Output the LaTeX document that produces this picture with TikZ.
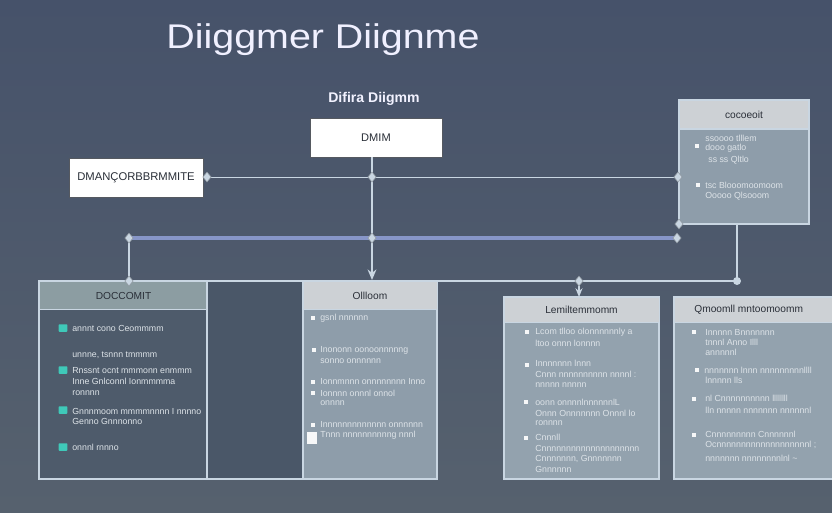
\documentclass[tikz,border=0pt]{standalone}
\usepackage{fontspec}
\setmainfont{Liberation Sans}
\usetikzlibrary{shapes.geometric,arrows.meta}
\definecolor{bgtop}{HTML}{46526A}
\definecolor{bgbot}{HTML}{56616E}
\definecolor{wire}{HTML}{C9D6E2}
\definecolor{bluewire}{HTML}{8796C8}
\definecolor{panel}{HTML}{8E9DAA}
\definecolor{panelb}{HTML}{93A2AE}
\definecolor{hdrlight}{HTML}{CDD1D5}
\definecolor{hdrteal}{HTML}{8C9DA2}
\definecolor{darkbody}{HTML}{4E5B6B}
\definecolor{darkcol}{HTML}{4A5768}
\definecolor{tealic}{HTML}{3FC9B9}
\definecolor{txtlight}{HTML}{DDE3E8}
\definecolor{txtdark}{HTML}{2A2F38}
\tikzset{
  box/.style n args={2}{anchor=north west,inner sep=0pt,outer sep=0pt,minimum width={#1*0.02cm},minimum height={#2*0.02cm}},
  whitebox/.style={fill=white,draw=txtdark!80,line width=0.5pt},
  frame/.style={draw=wire,line width=0.9pt},
  wireln/.style={draw=wire,line width=1.1pt},
  blueln/.style={draw=bluewire,line width=1.8pt},
  dia/.style={diamond,fill=wire,draw=wire!70!black,line width=0.3pt,inner sep=0pt,minimum width=0.17cm,minimum height=0.2cm},
  ln/.style={anchor=west,inner sep=0pt,text=txtlight,font=\fontsize{5}{6}\selectfont},
  hdrtxt/.style={inner sep=0pt,text=txtdark,font=\fontsize{5.8}{6}\selectfont},
  bul/.style={fill=white!92!panel,inner sep=0pt,minimum size=0.08cm},
  ticon/.style={fill=tealic,rounded corners=0.5pt,inner sep=0pt,minimum width=0.18cm,minimum height=0.15cm},
}
\begin{document}
\begin{tikzpicture}[x=0.02cm,y=-0.02cm]
\useasboundingbox (0,0) rectangle (832,512);
\clip (0,0) rectangle (832,512);
\shade[top color=bgtop,bottom color=bgbot] (0,0) rectangle (832,512);

% titles
\node[text=white!94!blue] (title) at (323,40) {\scalebox{1.15}[1]{\fontsize{19.5}{22}\selectfont Diiggmer Diignme}};
\node[text=white!95!blue,font=\fontsize{8}{9}\selectfont\bfseries] (subtitle) at (374,99) {Difira Diigmm};

% top boxes
\node[box={132}{39},whitebox] (dmim) at (310,118) {};
\node[hdrtxt,font=\fontsize{6.3}{7}\selectfont] (dmimt) at (dmim.center) {DMIM};
\node[box={134}{39},whitebox] (leftbox) at (69,158) {};
\node[hdrtxt,font=\fontsize{6.4}{7}\selectfont] (leftt) at (leftbox.center) {DMANÇORBBRMMITE};

% right top panel
\node[box={130}{124},fill=panel,draw=wire,line width=0.9pt] (rpanel) at (679,100) {};
\node[box={128}{28},fill=hdrlight] (rphdr) at (680,101) {};
\draw[wire,line width=0.6pt] (rphdr.south west) -- (rphdr.south east);
\node[hdrtxt] (rpht) at (rphdr.center) {cocoeoit};
\node[bul] (rpb1) at (697,146) {};
\node[ln] (rp1) at (705,138) {ssoooo tlllem};
\node[ln] (rp2) at (705,148) {dooo gatlo};
\node[ln] (rp3) at (708,160) {ss ss Qltlo};
\node[bul] (rpb2) at (698,185) {};
\node[ln] (rp4) at (705,185) {tsc Blooomoomoom};
\node[ln] (rp5) at (705,196) {Ooooo Qlsooom};

% bottom box 1
\node[box={168}{198},fill=darkbody,frame] (b1) at (39,281) {};
\node[box={167}{28},fill=hdrteal] (b1h) at (40,281.5) {};
\draw[wire,line width=0.6pt] (b1h.south west) -- (b1h.south east);
\node[hdrtxt] (b1ht) at (b1h.center) {DOCCOMIT};
\node[ticon] (i1) at (63,328) {};
\node[ln] (b1l1) at (72,328) {annnt cono Ceommmm};
\node[ln] (b1l2) at (72,355) {unnne, tsnnn tmmmm};
\node[ticon] (i2) at (63,370) {};
\node[ln] (b1l3) at (72,371) {Rnssnt ocnt mmmonn enmmm};
\node[ln] (b1l4) at (72,381) {Inne Gnlconnl Ionmmmma};
\node[ln] (b1l5) at (72,393) {ronnnn};
\node[ticon] (i3) at (63,410) {};
\node[ln] (b1l6) at (72,411) {Gnnnmoom mmmmnnnn I nnnno};
\node[ln] (b1l7) at (72,421) {Genno Gnnnonno};
\node[ticon] (i4) at (63,447) {};
\node[ln] (b1l8) at (72,447) {onnnl rnnno};

% bottom box 2 (empty)
\node[box={96}{198},fill=darkcol,frame] (b2) at (207,281) {};

% bottom box 3
\node[box={134}{198},fill=panel,frame] (b3) at (303,281) {};
\node[box={133}{28},fill=hdrlight] (b3h) at (303.5,281.5) {};
\draw[wire,line width=0.6pt] (b3h.south west) -- (b3h.south east);
\node[hdrtxt] (b3ht) at (b3h.center) {Ollloom};
\node[bul] (b3b1) at (313,318) {};
\node[ln] (b3l1) at (320,318) {gsnl nnnnnn};
\node[bul] (b3b2) at (314,350) {};
\node[ln] (b3l2) at (320,350) {Inononn oonoonnnnng};
\node[ln] (b3l3) at (320,361) {sonno onnnnnn};
\node[bul] (b3b3) at (313,382) {};
\node[ln] (b3l4) at (320,382) {Ionnmnnn onnnnnnnn Inno};
\node[bul] (b3b4) at (313,393) {};
\node[ln] (b3l5) at (320,393) {Ionnnn onnnl onnol};
\node[ln] (b3l6) at (320,403) {onnnn};
\node[bul] (b3b5) at (313,425) {};
\node[ln] (b3l7) at (320,425) {Innnnnnnnnnnnn onnnnnn};
\node[bul,minimum width=0.2cm,minimum height=0.24cm] (b3b6) at (312,438) {};
\node[ln] (b3l8) at (320,435) {Tnnn nnnnnnnnnng nnnl};

% bottom box 4
\node[box={155}{182},fill=panelb,frame] (b4) at (504,297) {};
\node[box={154}{25},fill=hdrlight] (b4h) at (504.5,297.5) {};
\draw[wire,line width=0.6pt] (b4h.south west) -- (b4h.south east);
\node[hdrtxt] (b4ht) at (b4h.center) {Lemiltemmomm};
\node[bul] (b4b1) at (527,332) {};
\node[ln] (b4l1) at (535,332) {Lcom tlloo olonnnnnnly a};
\node[ln] (b4l2) at (535,343) {ltoo onnn lonnnn};
\node[bul] (b4b2) at (527,365) {};
\node[ln] (b4l3) at (535,363) {Innnnnnn lnnn};
\node[ln] (b4l4) at (535,374) {Cnnn nnnnnnnnnn nnnnl :};
\node[ln] (b4l5) at (535,385) {nnnnn nnnnn};
\node[bul] (b4b3) at (526,402) {};
\node[ln] (b4l6) at (535,402) {oonn onnnnlnnnnnnlL};
\node[ln] (b4l7) at (535,413) {Onnn Onnnnnnn Onnnl lo};
\node[ln] (b4l8) at (535,423) {ronnnn};
\node[bul] (b4b4) at (526,438) {};
\node[ln] (b4l9) at (535,437) {Cnnnll};
\node[ln] (b4l10) at (535,448) {Cnnnnnnnnnnnnnnnnnnnn};
\node[ln] (b4l11) at (535,459) {Cnnnnnnn, Gnnnnnnn};
\node[ln] (b4l12) at (535,469) {Gnnnnnn};

% bottom box 5
\node[box={170}{182},fill=panelb,frame] (b5) at (674,297) {};
\node[box={169}{25},fill=hdrlight] (b5h) at (674.5,297.5) {};
\draw[wire,line width=0.6pt] (b5h.south west) -- (b5h.south east);
\node[hdrtxt,anchor=west] (b5ht) at (694,310) {Qmoomll mntoomoomm};
\node[bul] (b5b1) at (694,332) {};
\node[ln] (b5l1) at (705,332) {Innnnn Bnnnnnnn};
\node[ln] (b5l2) at (705,342) {tnnnl Anno Illl};
\node[ln] (b5l3) at (705,352) {annnnnl};
\node[bul] (b5b2) at (697,370) {};
\node[ln] (b5l4) at (704,370) {nnnnnnn lnnn nnnnnnnnnllll};
\node[ln] (b5l5) at (705,380) {lnnnnn lls};
\node[bul] (b5b3) at (694,399) {};
\node[ln] (b5l6) at (705,398) {nl Cnnnnnnnnnn llllllll};
\node[ln] (b5l7) at (705,410) {lln nnnnn nnnnnnn nnnnnnl};
\node[bul] (b5b4) at (694,435) {};
\node[ln] (b5l8) at (705,434) {Cnnnnnnnnn Cnnnnnnl};
\node[ln] (b5l9) at (705,445) {Ocnnnnnnnnnnnnnnnnnnnl ;};
\node[ln] (b5l10) at (705,458) {nnnnnnn nnnnnnnnlnl \textasciitilde};

% connectors
\coordinate (vtop) at (372,157);
\coordinate (vbot) at (372,280);
\coordinate (bl) at (129,238);
\coordinate (br) at (677,238);
\coordinate (rdrop) at (737,224);
\coordinate (rcorner) at (737,281);
\coordinate (b3r) at (437,281);
\coordinate (pin) at (579,281);

\draw[wireln] (leftbox.east) -- (leftbox.east -| rpanel.west);
\draw[wireln,-{Stealth[length=6pt,width=5pt]}] (vtop) -- (vbot);
\draw[blueln] (bl) -- (br);
\draw[wireln] (bl) -- (bl |- b1.north);
\draw[wireln] (rdrop) -- (rcorner) -- (b3r);
\draw[wireln,-{Stealth[length=5pt,width=4pt]}] (pin) -- (pin |- b4.north);

\node[dia] (d1) at (207,177) {};
\node[dia] (d2) at (372,177) {};
\node[dia] (d3) at (678,177) {};
\node[dia] (d4) at (bl) {};
\node[dia] (d5) at (372,238) {};
\node[dia] (d6) at (br) {};
\node[dia] (d7) at (bl |- b1.north) {};
\node[dia] (d8) at (rpanel.south west) {};
\node[dia] (d9) at (pin) {};
\node[circle,fill=wire,inner sep=0pt,minimum size=0.16cm] (c1) at (rcorner) {};
\end{tikzpicture}
\end{document}
